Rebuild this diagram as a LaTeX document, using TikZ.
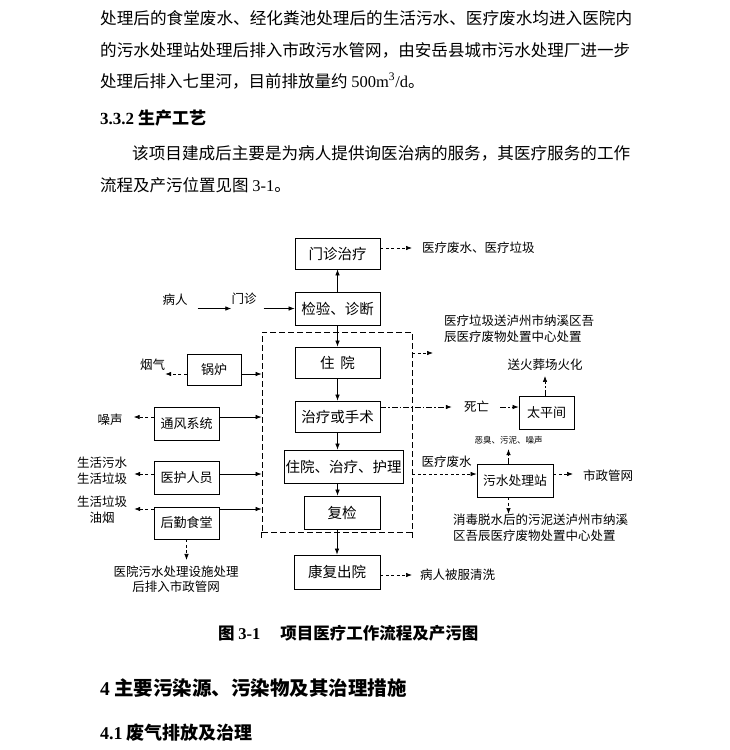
\documentclass[tikz,border=0pt]{standalone}
\usepackage{fontspec}
\usepackage{graphicx}
\setmainfont{Liberation Serif}
\newfontfamily\cjk{Noto Sans CJK SC}
\usetikzlibrary{arrows.meta}
\begin{document}
\begin{tikzpicture}[x=1pt,y=-1pt,
  box/.style={draw, line width=0.8pt, inner sep=0pt, font=\cjk\fontsize{14.5}{16}\selectfont},
  sbox/.style={box, font=\cjk\fontsize{13}{15}\selectfont},
  lbl/.style={inner sep=0pt, font=\cjk\fontsize{12.5}{16}\selectfont},
  arr/.style={line width=0.7pt, -{Latex[length=6pt,width=4.5pt]}},
  darr/.style={arr, dash pattern=on 3pt off 2.5pt},
  ddarr/.style={arr, dash pattern=on 6pt off 2pt on 1.5pt off 2pt},
  rectdash/.style={line width=0.8pt, dash pattern=on 6pt off 3pt},
  txt/.style={inner sep=0pt, anchor=west, font=\cjk\fontsize{16.5}{20}\selectfont},
  head/.style={inner sep=0pt, anchor=west, font=\cjk\bfseries\fontsize{19.5}{22}\selectfont}
]
\useasboundingbox[fill=white] (0,0) rectangle (730,750);

% ---------- body text ----------
\node[txt] (p1) at (100,18) {\resizebox{532pt}{\height}{处理后的食堂废水、经化粪池处理后的生活污水、医疗废水均进入医院内}};
\node[txt] (p2) at (100,50) {\resizebox{530pt}{\height}{的污水处理站处理后排入市政污水管网，由安岳县城市污水处理厂进一步}};
\node[txt] (p3) at (100,81) {处理后排入七里河，目前排放量约~{\rmfamily 500m\textsuperscript{3}/d}。};
\node[txt, font=\cjk\bfseries\fontsize{17}{20}\selectfont] (h1) at (100,118) {{\rmfamily\bfseries 3.3.2} 生产工艺};
\node[txt] (p4) at (132,153) {\resizebox{498pt}{\height}{该项目建成后主要是为病人提供询医治病的服务，其医疗服务的工作}};
\node[txt] (p5) at (100,185) {流程及产污位置见图~{\rmfamily 3-1}。};

\node[txt, font=\cjk\bfseries\fontsize{16.5}{18}\selectfont] (cap) at (218,633) {图~{\rmfamily\bfseries 3-1}\hspace{1.2em}项目医疗工作流程及产污图};
\node[head] (h2) at (100,688) {{\rmfamily\bfseries 4} 主要污染源、污染物及其治理措施};
\node[head, font=\cjk\bfseries\fontsize{18}{21}\selectfont] (h3) at (100,733) {{\rmfamily\bfseries 4.1} 废气排放及治理};

% ---------- diagram boxes ----------
\node[rectdash, draw, minimum width=150pt, minimum height=200pt, inner sep=0pt] (ip) at (337,432) {};
\draw[rectdash] (ip.south west) -- ++(0,8);
\draw[rectdash] (ip.south east) -- ++(0,8);

\node[box, minimum width=85pt, minimum height=31pt] (mz) at (337.5,253.5) {门诊治疗};
\node[box, minimum width=85pt, minimum height=33pt] (jy) at (337.5,308.5) {检验、诊断};
\node[box, minimum width=85pt, minimum height=31pt] (zy) at (337.5,362.5) {住\hspace{0.4em}院};
\node[box, minimum width=85pt, minimum height=31pt] (zl) at (337.5,416.5) {治疗或手术};
\node[box, minimum width=119pt, minimum height=33pt] (zh) at (343.5,466.5) {住院、治疗、护理};
\node[box, minimum width=76pt, minimum height=33pt] (fj) at (342,512.5) {复检};
\node[box, minimum width=86pt, minimum height=34pt] (kf) at (337,572) {康复出院};

\node[sbox, minimum width=54pt, minimum height=31pt] (gl) at (214,369.5) {锅炉};
\node[sbox, minimum width=65pt, minimum height=33pt] (tf) at (186.5,423.5) {通风系统};
\node[sbox, minimum width=65pt, minimum height=33pt] (yh) at (186.5,477.5) {医护人员};
\node[sbox, minimum width=65pt, minimum height=32pt] (hq) at (186.5,523) {后勤食堂};
\node[sbox, minimum width=55pt, minimum height=33pt] (tp) at (546.5,412.5) {太平间};
\node[sbox, font=\cjk\fontsize{12.8}{15}\selectfont, minimum width=76pt, minimum height=33pt] (ws) at (515,480.5) {污水处理站};

% ---------- labels ----------
\node[lbl] (bingren) at (175,300) {病人};
\node[lbl] (menzhen) at (244,299) {门诊};
\node[lbl, anchor=west] (l1) at (422,248) {医疗废水、医疗垃圾};
\node[lbl, anchor=north west, align=left] (l2) at (444,315) {医疗垃圾送泸州市纳溪区吾\\辰医疗废物处置中心处置};
\node[lbl] (hz) at (545,365) {送火葬场火化};
\node[lbl] (sw) at (476.5,407) {死亡};
\node[lbl, font=\cjk\fontsize{8.5}{10}\selectfont] (ec) at (508.5,440) {恶臭、污泥、噪声};
\node[lbl] (fs) at (446.5,462) {医疗废水};
\node[lbl, anchor=west] (sz) at (583,476) {市政管网};
\node[lbl, anchor=north west, align=left] (xd) at (453,514) {消毒脱水后的污泥送泸州市纳溪\\区吾辰医疗废物处置中心处置};
\node[lbl, anchor=west] (bf) at (420,575) {病人被服清洗};
\node[lbl] (yq) at (152.5,365) {烟气};
\node[lbl] (zs) at (110,420) {噪声};
\node[lbl, align=center] (sh1) at (102,470.5) {生活污水\\生活垃圾};
\node[lbl, align=center] (sh2) at (102,509.5) {生活垃圾\\油烟};
\node[lbl, align=center, font=\cjk\fontsize{12.5}{15}\selectfont] (yy) at (176,579.5) {医院污水处理设施处理\\后排入市政管网};

% ---------- helper coordinates ----------
\coordinate (t2) at (433,353);
\coordinate (wsin) at ([yshift=6.5pt]ws.west);
\coordinate (g1) at ([yshift=-4.5pt]gl.east);
\coordinate (f1) at ([yshift=6.5pt]tf.east);
\coordinate (y1) at ([yshift=3.5pt]yh.east);
\coordinate (q1) at ([yshift=14pt]hq.east);

% ---------- main flow ----------
\draw[arr, shorten <=10pt] (bingren.east |- jy.west) -- (menzhen.west |- jy.west);
\draw[arr, shorten <=7pt] (menzhen.east |- jy.west) -- (jy.west);
\draw[arr] (jy.north) -- (mz.south);
\draw[arr] (jy.south) -- (zy.north);
\draw[arr] (zy.south) -- (zl.north);
\draw[arr] (zl.south) -- (zl.south |- zh.north);
\draw[arr] (zl.south |- zh.south) -- (zl.south |- fj.north);
\draw[arr] (kf.north |- fj.south) -- (kf.north);

% ---------- right side ----------
\draw[darr, shorten >=10pt] (mz.east |- l1.west) -- (l1.west);
\draw[darr] (ip.east |- t2) -- (t2);
\draw[ddarr, shorten >=12pt] (zl.east |- sw.west) -- (sw.west);
\draw[ddarr, shorten <=11pt] (sw.east) -- (tp.west |- sw.east);
\draw[ddarr, shorten >=5pt] (hz.south |- tp.north) -- (hz.south);
\draw[ddarr, shorten >=5pt] (ec.south |- ws.north) -- (ec.south);
\draw[darr] (ip.east |- wsin) -- (wsin);
\draw[darr, shorten >=10pt] (ws.east |- wsin) -- (sz.west |- wsin);
\draw[darr] (ec.south |- ws.south) -- (ec.south |- xd.north);
\draw[darr, shorten >=8pt] (kf.east |- bf.west) -- (bf.west);

% ---------- left side ----------
\draw[arr] (g1) -- (ip.west |- g1);
\draw[darr] (g1 -| gl.west) -- (yq.east |- g1);
\draw[arr] (f1) -- (ip.west |- f1);
\draw[darr, shorten >=11pt] (f1 -| tf.west) -- (zs.east |- f1);
\draw[arr] (y1) -- (ip.west |- y1);
\draw[darr, shorten >=7pt] (y1 -| yh.west) -- (sh1.east |- y1);
\draw[arr] (q1) -- (ip.west |- q1);
\draw[darr, shorten >=7pt] (q1 -| hq.west) -- (sh2.east |- q1);
\draw[darr, shorten >=6pt] (hq.south) -- (hq.south |- yy.north);
\end{tikzpicture}
\end{document}
